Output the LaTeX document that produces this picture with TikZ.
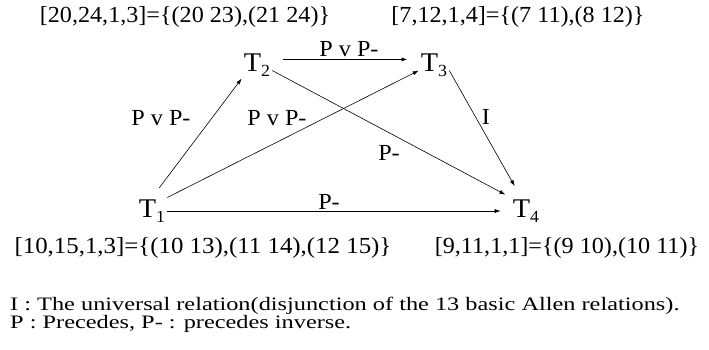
\documentclass[tikz,border=0pt]{standalone}
\usepackage{fontspec}
\setmainfont[FakeStretch=1.05]{Liberation Serif}
\newfontfamily\legendfont[FakeStretch=1.28]{Liberation Serif}
\usetikzlibrary{arrows.meta}
\tikzset{
  tnode/.style={inner sep=2pt,font=\fontsize{27}{27}\selectfont},
  rel/.style={-{Latex[length=6pt,width=4pt]},line width=0.6pt},
  lab/.style={inner sep=0pt,font=\fontsize{23}{23}\selectfont},
  legend/.style={inner sep=0pt,anchor=base west,font=\legendfont\fontsize{19}{19}\selectfont},
}
\newcommand{\tsub}[1]{T\raisebox{-5pt}{\fontsize{17}{17}\selectfont #1}}
\begin{document}
\begin{tikzpicture}[x=1pt,y=-1pt]
\useasboundingbox (0,0) rectangle (709,349);
% interval nodes
\node[tnode] (T1) at (152,211) {\tsub{1}};
\node[tnode] (T2) at (257,65) {\tsub{2}};
\node[tnode] (T3) at (434,65) {\tsub{3}};
\node[tnode] (T4) at (526,211) {\tsub{4}};
% constraint sets
\node[lab] (set2) at (185,17) {[20,24,1,3]=\{(20 23),(21 24)\}};
\node[lab] (set3) at (518,17) {[7,12,1,4]=\{(7 11),(8 12)\}};
\node[lab,xscale=1.03] (set1) at (203,248) {[10,15,1,3]=\{(10 13),(11 14),(12 15)\}};
\node[lab] (set4) at (567,248) {[9,11,1,1]=\{(9 10),(10 11)\}};
% relations
\draw[rel,shorten <=12pt] (T1.north) -- (T2.south west);
\draw[rel] (T1.north east) -- (T3.200);
\draw[rel,shorten >=6pt] (T2.-20) -- (T4.north west);
\draw[rel,shorten >=13pt] (T3.-20) -- (T4.110);
\draw[rel,shorten >=10pt] (T1.east) -- (T4.west);
\draw[rel,line width=1.6pt,shorten <=11pt,shorten >=11pt] (T2.20) -- (T3.160);
\node[lab] (r12) at (161,118) {P v P-};
\node[lab] (r13) at (277,118) {P v P-};
\node[lab] (r24) at (389,153) {P-};
\node[lab] (r14) at (329,202) {P-};
\node[lab] (r34) at (486,117) {I};
\node[lab] (r23) at (349,49) {P v P-};
% legend
\node[legend] (legI) at (10,310) {I : The universal relation(disjunction of the 13 basic Allen relations).};
\node[legend] (legP) at (10,328) {P : Precedes, P- : precedes inverse.};
\end{tikzpicture}
\end{document}
